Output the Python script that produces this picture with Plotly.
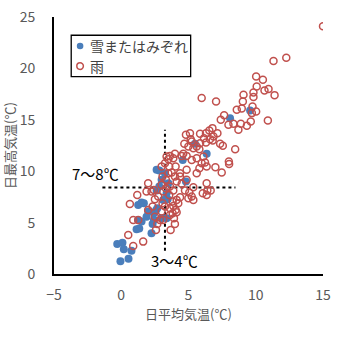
import plotly.graph_objects as go

snow_x = [-0.30, 0.09, 0.19, 0.76, -0.06, 0.54, 1.14, 1.34, 1.26, 1.51, 1.26, 1.51, 1.68,
          2.25, 2.33, 2.43, 2.58, 2.68, 2.63, 2.83, 2.63, 2.83, 3.00, 3.12, 3.37, 3.50,
          3.37, 3.00, 3.25, 3.45, 4.57, 4.81, 5.48, 6.35, 8.09, 9.58, 2.00, 1.88, 2.43]
snow_y = [2.92, 3.05, 2.40, 2.27, 1.23, 1.49, 4.35, 4.42, 5.26, 5.10, 6.72, 6.95, 6.88,
          3.96, 4.87, 5.91, 6.17, 6.40, 10.13, 10.06, 8.12, 8.51, 9.16, 7.21, 7.86, 8.83,
          5.42, 5.42, 9.81, 7.27, 11.10, 9.00, 12.66, 11.69, 15.16, 15.91, 6.07, 5.58, 5.26]

rain_x = [15.00, 11.32, 12.27, 10.03, 10.53, 10.07, 10.65, 10.95, 11.40, 9.83, 9.83, 9.09,
          9.04, 8.59, 8.96, 9.76, 10.03, 9.71, 5.98, 7.05, 9.63, 10.90, 9.34, 8.34, 8.89,
          8.71, 7.97, 7.40, 7.65, 8.47, 8.00, 8.02, 7.47, 7.00, 7.35, 7.55, 6.86, 7.15,
          6.78, 6.55, 6.30, 5.86, 6.15, 6.60, 6.80, 6.30, 5.86, 5.24, 5.11, 4.81, 5.16,
          4.69, 4.99, 5.36, 5.61, 5.81, 4.61, 4.86, 4.49, 3.99, 3.87, 3.62, 3.50, 3.25,
          3.57, 4.04, 5.24, 5.61, 6.11, 6.23, 5.98, 6.35, 5.81, 5.61, 4.86, 4.37, 4.37,
          3.99, 3.75, 4.12, 4.86, 4.49, 5.36, 4.74, 5.06, 5.24, 5.36, 4.99, 6.06, 6.40,
          6.35, 6.65, 6.35, 4.37, 4.12, 3.82, 4.24, 3.87, 4.04, 4.12, 3.82, 3.62, 3.92,
          3.99, 3.67, 3.12, 2.88, 2.68, 2.58, 2.50, 2.33, 2.50, 2.75, 2.43, 2.25, 2.00,
          1.88, 2.00, 1.19, 0.64, 0.89, 1.26, 0.52, 0.89, 1.63, 3.07, 3.00, 3.32, 3.12,
          3.32, 3.50, 3.62, 3.87, 3.57, 3.25, 3.62, 3.00, 3.07, 3.37, 3.00]
rain_y = [24.09, 20.71, 21.04, 19.22, 18.90, 18.25, 17.86, 17.99, 17.40, 17.66, 17.21, 17.44,
          16.79, 15.97, 16.10, 16.30, 15.81, 15.65, 17.11, 16.79, 14.84, 14.94, 14.42, 14.61,
          14.61, 14.03, 14.51, 15.00, 15.45, 12.14, 10.94, 10.71, 9.87, 10.39, 12.66, 12.47,
          13.38, 13.70, 14.19, 13.96, 13.70, 13.64, 13.21, 13.12, 12.99, 12.79, 12.73, 12.89,
          13.70, 13.54, 13.12, 12.66, 12.40, 12.24, 12.40, 12.14, 11.69, 11.49, 11.49, 11.69,
          11.27, 11.49, 11.17, 10.78, 10.45, 10.45, 11.10, 11.27, 11.43, 10.84, 10.78, 10.45,
          10.29, 9.81, 10.13, 9.81, 9.48, 9.48, 9.87, 8.99, 9.16, 8.77, 8.44, 8.12, 7.92,
          7.53, 7.21, 7.37, 7.86, 8.12, 8.83, 8.12, 7.69, 7.47, 7.21, 7.05, 6.88, 6.62,
          6.23, 6.01, 5.91, 5.75, 5.42, 4.87, 4.29, 5.26, 5.26, 4.87, 4.29, 5.58, 6.56,
          7.27, 7.53, 8.18, 8.02, 8.83, 8.02, 6.23, 7.69, 6.82, 5.26, 5.26, 3.80, 2.73,
          3.15, 9.48, 8.67, 8.34, 8.02, 9.16, 9.81, 8.51, 8.12, 7.69, 6.56, 6.40, 6.07,
          6.88, 11.43, 10.45]

vline_x = [3.25, 3.25]
vline_y = [2.27, 14.03]
hline_x = [-1.40, 8.49]
hline_y = [8.41, 8.41]

x_ticks = [-5, 0, 5, 10, 15]
y_ticks = [0, 5, 10, 15, 20, 25]

SNOW_NAME = "雪またはみぞれ"
RAIN_NAME = "雨"
SNOW_COLOR = "#4A7EBB"
RAIN_COLOR = "#C0504D"

FONT = "Noto Sans CJK JP"
GRAY = "#595959"

fig = go.Figure()
fig.add_trace(go.Scatter(x=vline_x, y=vline_y, mode="lines", showlegend=False,
                         line=dict(color="black", width=2, dash="dot"), hoverinfo="skip"))
fig.add_trace(go.Scatter(x=hline_x, y=hline_y, mode="lines", showlegend=False,
                         line=dict(color="black", width=2, dash="dot"), hoverinfo="skip"))
fig.add_trace(go.Scatter(x=snow_x, y=snow_y, mode="markers", name=SNOW_NAME, showlegend=False,
                         marker=dict(color=SNOW_COLOR, size=8, line=dict(width=0))))
fig.add_trace(go.Scatter(x=rain_x, y=rain_y, mode="markers", name=RAIN_NAME, showlegend=False,
                         marker=dict(color="rgba(0,0,0,0)", size=7,
                                     line=dict(color=RAIN_COLOR, width=1.5))))

# compact legend drawn with a box, two symbol circles and two labels
fig.add_shape(type="rect", xref="paper", yref="paper", x0=0.064, x1=0.508, y0=0.768, y1=0.929,
              line=dict(color="black", width=1.3), fillcolor="white", layer="above")
leg_rows = [(SNOW_NAME, 0.887, dict(fillcolor=SNOW_COLOR, line=dict(width=0))),
            (RAIN_NAME, 0.809, dict(fillcolor="white", line=dict(color=RAIN_COLOR, width=1.5)))]
for name, yy, style in leg_rows:
    fig.add_shape(type="circle", xref="paper", yref="paper", xsizemode="pixel", ysizemode="pixel",
                  xanchor=0.097, yanchor=yy, x0=-3.3, x1=3.3, y0=-3.3, y1=3.3, layer="above", **style)
    fig.add_annotation(xref="paper", yref="paper", x=0.128, y=yy, xanchor="left", yanchor="middle",
                       text=name, showarrow=False,
                       font=dict(family=FONT, size=14, color="#404040"))

fig.add_annotation(x=-1.89, y=9.74, text="7〜8℃", showarrow=False,
                   font=dict(family=FONT, size=15, color="black"))
fig.add_annotation(x=3.97, y=1.3, text="3〜4℃", showarrow=False,
                   font=dict(family=FONT, size=15, color="black"))

fig.update_layout(
    template="none",
    width=343, height=342,
    margin=dict(l=54, r=20, t=17, b=68, autoexpand=False),
    paper_bgcolor="white", plot_bgcolor="white",
    font=dict(family=FONT, color=GRAY, size=12),
    showlegend=False,
    xaxis=dict(range=[-5, 15], tickvals=x_ticks, showgrid=False, zeroline=False,
               automargin=False,
               showline=True, linecolor="black", linewidth=2, ticks="",
               ticklabelstandoff=7,
               title=dict(text="日平均気温(℃)", font=dict(family=FONT, size=13, color=GRAY), standoff=2),
               tickfont=dict(size=14, color=GRAY)),
    yaxis=dict(range=[0, 25], tickvals=y_ticks, showgrid=False, zeroline=False,
               automargin=False,
               showline=True, linecolor="black", linewidth=2, ticks="",
               ticklabelstandoff=14,
               title=dict(text="日最高気温(℃)", font=dict(family=FONT, size=13, color=GRAY), standoff=4),
               tickfont=dict(size=14, color=GRAY)),
)

fig.write_html("out.html")
